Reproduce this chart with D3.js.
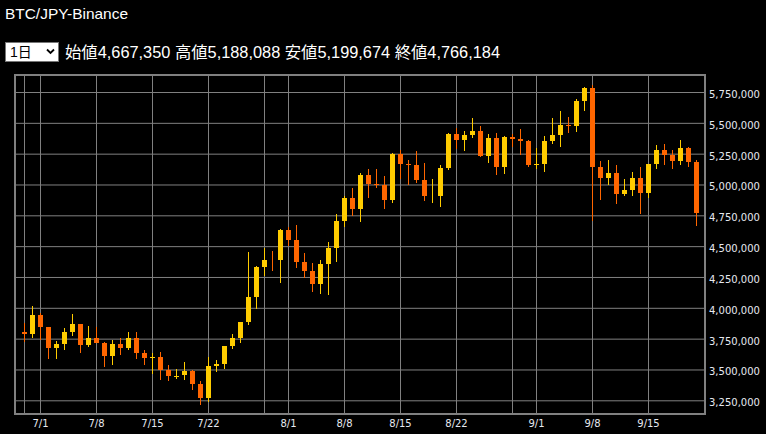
<!DOCTYPE html>
<html>
<head>
<meta charset="utf-8">
<script src="https://cdn.jsdelivr.net/npm/d3@7"></script>
<style>
  html, body { margin: 0; padding: 0; background: #000; }
  svg { display: block; }
</style>
</head>
<body>
<svg id="chart" width="766" height="434"></svg>
<script>
// ---- data (values in JPY) ----
const title = "BTC/JPY-Binance";
const periodLabel = "1日";
const summaryText = "始値4,667,350 高値5,188,088 安値5,199,674 終値4,766,184";
const year = 2021;
const dates = [
  "06-29","06-30",
  "07-01","07-02","07-03","07-04","07-05","07-06","07-07","07-08","07-09","07-10",
  "07-11","07-12","07-13","07-14","07-15","07-16","07-17","07-18","07-19","07-20",
  "07-21","07-22","07-23","07-24","07-25","07-26","07-27","07-28","07-29","07-30","07-31",
  "08-01","08-02","08-03","08-04","08-05","08-06","08-07","08-08","08-09","08-10",
  "08-11","08-12","08-13","08-14","08-15","08-16","08-17","08-18","08-19","08-20",
  "08-21","08-22","08-23","08-24","08-25","08-26","08-27","08-28","08-29","08-30","08-31",
  "09-01","09-02","09-03","09-04","09-05","09-06","09-07","09-08","09-09","09-10",
  "09-11","09-12","09-13","09-14","09-15","09-16","09-17","09-18","09-19","09-20","09-21"
];
const open = [
  3804000,3788000,3942000,3844000,3677000,3707000,3804000,3869000,3698000,3755000,
  3715000,3609000,3707000,3674000,3755000,3634000,3595000,3601000,3498000,3444000,
  3455000,3488000,3382000,3269000,3528000,3544000,3690000,3755000,3885000,4088000,
  4331000,4381000,4388000,4631000,4550000,4371000,4301000,4195000,4355000,4487000,
  4704000,4890000,4804000,5077000,5004000,4996000,4877000,5247000,5166000,5158000,
  5036000,4954000,4907000,5134000,5409000,5361000,5401000,5434000,5231000,5377000,
  5142000,5385000,5369000,5353000,5158000,5166000,5353000,5401000,5482000,5474000,
  5677000,5782000,5142000,5053000,5093000,4923000,4955000,5053000,4931000,5166000,
  5280000,5239000,5191000,5296000,5182000
];
const high = [
  3873000,4015000,3955000,3846000,3731000,3836000,3950000,3871000,3852000,3844000,
  3723000,3739000,3755000,3804000,3804000,3658000,3634000,3642000,3536000,3504000,
  3560000,3496000,3406000,3601000,3577000,3692000,3788000,3887000,4453000,4339000,
  4485000,4461000,4639000,4655000,4671000,4444000,4363000,4388000,4534000,4761000,
  4907000,4972000,5093000,5126000,5126000,5069000,5255000,5280000,5199000,5272000,
  5174000,5045000,5158000,5418000,5458000,5434000,5539000,5474000,5409000,5418000,
  5393000,5409000,5450000,5361000,5296000,5393000,5539000,5596000,5547000,5693000,
  5791000,5807000,5191000,5199000,5158000,5045000,5101000,5142000,5168000,5320000,
  5328000,5280000,5361000,5304000,5199000
];
const low = [
  3719000,3758000,3735000,3587000,3587000,3660000,3774000,3636000,3682000,3716000,
  3520000,3536000,3617000,3658000,3585000,3536000,3463000,3417000,3406000,3425000,
  3417000,3333000,3212000,3236000,3480000,3504000,3666000,3715000,3861000,3990000,
  4258000,4298000,4201000,4501000,4325000,4244000,4131000,4114000,4104000,4374000,
  4655000,4747000,4698000,4893000,4974000,4804000,4852000,5047000,4996000,5015000,
  4869000,4850000,4820000,5118000,5288000,5272000,5377000,5223000,5174000,5077000,
  5085000,5304000,5239000,5142000,5126000,5101000,5328000,5304000,5418000,5426000,
  5596000,4704000,4874000,4996000,4842000,4907000,4907000,4761000,4890000,5126000,
  5158000,5126000,5158000,5142000,4663000
];
const close = [
  3790000,3942000,3844000,3677000,3707000,3804000,3869000,3698000,3755000,3717000,
  3609000,3707000,3674000,3755000,3634000,3593000,3601000,3498000,3447000,3450000,
  3488000,3385000,3269000,3528000,3544000,3690000,3755000,3885000,4088000,4331000,
  4388000,4380000,4631000,4550000,4374000,4301000,4195000,4355000,4485000,4704000,
  4890000,4804000,5077000,5004000,4996000,4877000,5247000,5169000,5160000,5039000,
  4909000,4955000,5134000,5409000,5361000,5401000,5434000,5231000,5377000,5142000,
  5385000,5369000,5353000,5158000,5166000,5353000,5401000,5482000,5474000,5677000,
  5782000,5142000,5053000,5093000,4923000,4955000,5053000,4931000,5166000,5280000,
  5239000,5191000,5296000,5182000,4766184
];
const yTicks = [3250000,3500000,3750000,4000000,4250000,4500000,4750000,5000000,5250000,5500000,5750000];
const gridDays = [1, 8, 15, 22, 29];
const labelDays = [1, 8, 15, 22];

// ---- layout ----
const upColor = "#ffcc00", downColor = "#ff6600";
const gridColor = "#808080", textColor = "#e6e9f0";
const plot = { left: 15, right: 705, top: 75, bottom: 414 };

const parse = d3.timeParse("%Y-%m-%d");
const days = dates.map(s => parse(year + "-" + s));
const candles = days.map((d, i) => ({ date: d, o: open[i], h: high[i], l: low[i], c: close[i] }));

const svg = d3.select("#chart");
svg.append("rect").attr("width", 766).attr("height", 434).attr("fill", "#000");

// header
svg.append("text").attr("x", 5).attr("y", 18.5)
  .attr("font-family", "'Liberation Sans', Arial, 'Noto Sans CJK JP', sans-serif")
  .attr("font-size", 15).attr("fill", "#fff")
  .attr("textLength", 123).attr("lengthAdjust", "spacingAndGlyphs").text(title);

const sel = svg.append("g");
sel.append("rect").attr("x", 5.5).attr("y", 42.5).attr("width", 53).attr("height", 19)
  .attr("fill", "#fff").attr("stroke", "#767676").attr("stroke-width", 1);
sel.append("text").attr("x", 10).attr("y", 57)
  .attr("font-family", "'Liberation Sans', Arial, 'Noto Sans CJK JP', sans-serif")
  .attr("font-size", 14).attr("fill", "#000").text(periodLabel);
sel.append("path").attr("d", "M47,49.5 L50.5,53 L54,49.5")
  .attr("fill", "none").attr("stroke", "#000").attr("stroke-width", 1.8);

svg.append("text").attr("x", 65).attr("y", 57.5)
  .attr("font-family", "'Liberation Sans', Arial, 'Noto Sans CJK JP', sans-serif")
  .attr("font-size", 16).attr("fill", "#fff")
  .attr("textLength", 435).attr("lengthAdjust", "spacingAndGlyphs").text(summaryText);

// scales
const x = d3.scaleTime()
  .domain([d3.timeHour.offset(days[0], -27), d3.timeHour.offset(days[days.length - 1], 27)])
  .range([plot.left, plot.right]);
const y = d3.scaleLinear().domain([3138900, 5887900]).range([plot.bottom, plot.top]);

// grid
const gridDates = days.filter(d => gridDays.includes(d.getDate()));
const labelDates = days.filter(d => labelDays.includes(d.getDate()));

const gx = svg.append("g").attr("transform", `translate(0,${plot.bottom})`)
  .call(d3.axisBottom(x).tickValues(gridDates).tickSize(-(plot.bottom - plot.top)).tickFormat(""));
gx.select(".domain").remove();
gx.selectAll(".tick line").attr("stroke", gridColor);

const gy = svg.append("g").attr("transform", `translate(${plot.left},0)`)
  .call(d3.axisLeft(y).tickValues(yTicks).tickSize(-(plot.right - plot.left)).tickFormat(""));
gy.select(".domain").remove();
gy.selectAll(".tick line").attr("stroke", gridColor);

// candles
const cg = svg.append("g");
candles.forEach(d => {
  const cx = Math.round(x(d.date));
  const col = d.c > d.o ? upColor : downColor;
  cg.append("line")
    .attr("x1", cx + 0.5).attr("x2", cx + 0.5)
    .attr("y1", Math.round(y(d.h))).attr("y2", Math.round(y(d.l)))
    .attr("stroke", col).attr("stroke-width", 1);
  const top = Math.round(y(Math.max(d.o, d.c)));
  const hgt = Math.round(Math.abs(y(d.o) - y(d.c)));
  if (hgt > 0) {
    cg.append("rect").attr("x", cx - 2).attr("y", top).attr("width", 5).attr("height", hgt)
      .attr("fill", col);
  }
});

// frame
svg.append("rect").attr("x", plot.left).attr("y", plot.top)
  .attr("width", plot.right - plot.left).attr("height", plot.bottom - plot.top)
  .attr("fill", "none").attr("stroke", gridColor).attr("stroke-width", 2);

// axes labels
const ax = svg.append("g").attr("transform", `translate(0,${plot.bottom})`)
  .call(d3.axisBottom(x).tickValues(labelDates).tickSize(0).tickPadding(6)
    .tickFormat(d3.timeFormat("%-m/%-d")));
ax.select(".domain").remove();
ax.selectAll("text").attr("fill", textColor)
  .attr("font-family", "'DejaVu Sans', Verdana, sans-serif").attr("font-size", 10);

const ay = svg.append("g").attr("transform", `translate(${plot.right},0)`)
  .call(d3.axisRight(y).tickValues(yTicks).tickSize(0).tickPadding(4).tickFormat(d3.format(",")));
ay.select(".domain").remove();
ay.selectAll("text").attr("fill", textColor).attr("dy", "0.55em")
  .attr("font-family", "'DejaVu Sans', Verdana, sans-serif").attr("font-size", 10);
</script>
</body>
</html>
